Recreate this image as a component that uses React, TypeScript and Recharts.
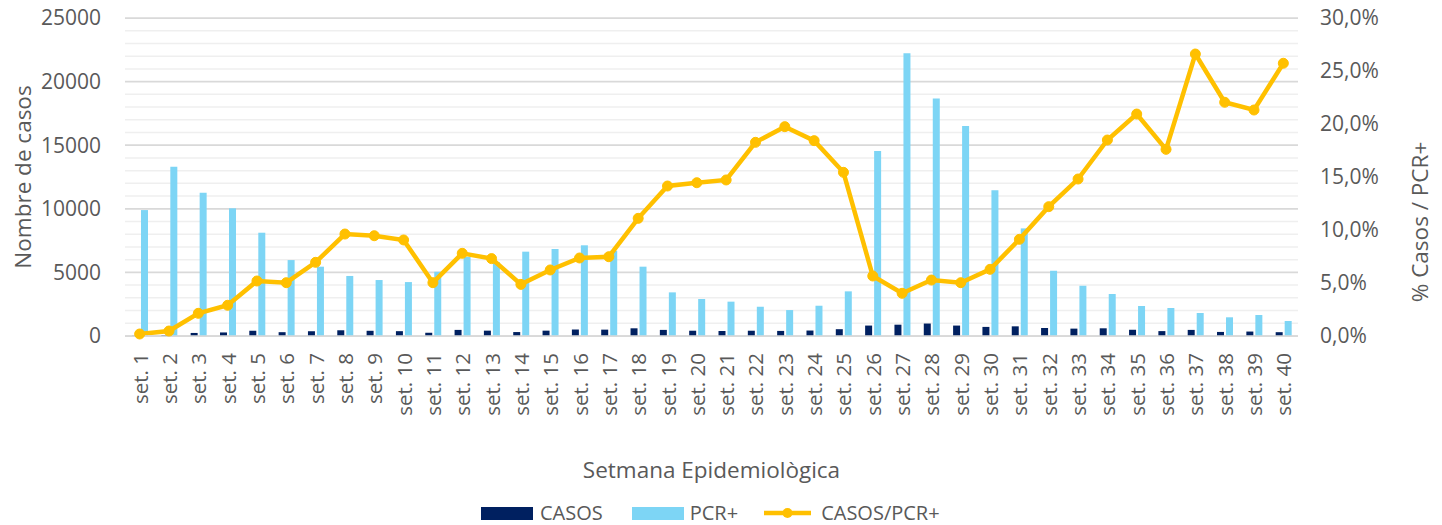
import React from 'react';
import { ComposedChart, Bar, Line, XAxis, YAxis, CartesianGrid, Legend, Label } from 'recharts';

const weeks = [
  'set. 1', 'set. 2', 'set. 3', 'set. 4', 'set. 5', 'set. 6', 'set. 7', 'set. 8', 'set. 9', 'set. 10',
  'set. 11', 'set. 12', 'set. 13', 'set. 14', 'set. 15', 'set. 16', 'set. 17', 'set. 18', 'set. 19', 'set. 20',
  'set. 21', 'set. 22', 'set. 23', 'set. 24', 'set. 25', 'set. 26', 'set. 27', 'set. 28', 'set. 29', 'set. 30',
  'set. 31', 'set. 32', 'set. 33', 'set. 34', 'set. 35', 'set. 36', 'set. 37', 'set. 38', 'set. 39', 'set. 40',
];

const casos = [
  20, 60, 240, 280, 410, 300, 375, 450, 410, 380,
  255, 480, 420, 310, 420, 510, 500, 605, 480, 415,
  395, 415, 400, 430, 535, 820, 890, 980, 820, 715,
  760, 630, 580, 605, 490, 385, 480, 320, 350, 300,
];

const pcrPositius = [
  9900, 13300, 11260, 10040, 8120, 5970, 5450, 4720, 4400, 4240,
  5050, 6230, 5800, 6630, 6840, 7130, 6700, 5450, 3430, 2910,
  2700, 2300, 2040, 2380, 3510, 14540, 22220, 18680, 16500, 11450,
  8460, 5130, 3950, 3300, 2360, 2200, 1810, 1470, 1650, 1180,
];

const ratioCasosPcr = [
  0.0019, 0.0047, 0.0214, 0.029, 0.0519, 0.0503, 0.0695, 0.0962, 0.0946, 0.0906,
  0.0503, 0.078, 0.073, 0.0487, 0.0623, 0.0736, 0.0748, 0.111, 0.1415, 0.1446,
  0.1472, 0.1827, 0.1975, 0.1843, 0.1544, 0.0566, 0.0403, 0.0528, 0.0503, 0.0629,
  0.0912, 0.122, 0.1481, 0.1849, 0.2094, 0.1761, 0.266, 0.2205, 0.2132, 0.2573,
];

const leftTicks = [0, 5000, 10000, 15000, 20000, 25000];
const minorGridValues = [
  1000, 2000, 3000, 4000, 6000, 7000, 8000, 9000, 11000, 12000, 13000, 14000,
  16000, 17000, 18000, 19000, 21000, 22000, 23000, 24000,
];
const rightTicks = [0, 0.05, 0.1, 0.15, 0.2, 0.25, 0.3];

const data = weeks.map((week, i) => ({
  week,
  casos: casos[i],
  pcr: pcrPositius[i],
  ratio: ratioCasosPcr[i],
}));

const FONT = "'Open Sans', sans-serif";
const TEXT = '#595959';
const NAVY = '#002060';
const LIGHT = '#7DD5F5';
const GOLD = '#FFC000';

const fmtPct = (v: number) => (v * 100).toFixed(1).replace('.', ',') + '%';

const XTick = (props: any) => {
  const { x, y, payload } = props;
  return (
    <text
      x={x}
      y={y}
      transform={`rotate(-90, ${x}, ${y})`}
      textAnchor="end"
      dominantBaseline="central"
      fontFamily={FONT}
      fontSize={20.5}
      fill={TEXT}
    >
      {payload.value}
    </text>
  );
};

const XTitle = (props: any) => {
  const vb = props.viewBox || { x: 125, y: 336, width: 1173 };
  return (
    <text x={vb.x + vb.width / 2} y={vb.y + 142} textAnchor="middle" fontFamily={FONT} fontSize={22.5} fill={TEXT}>
      Setmana Epidemiològica
    </text>
  );
};

const LeftTitle = (props: any) => {
  const vb = props.viewBox || { x: 0, y: 18, width: 125, height: 318 };
  const cx = vb.x + 22;
  const cy = vb.y + vb.height / 2;
  return (
    <text
      x={cx}
      y={cy}
      transform={`rotate(-90, ${cx}, ${cy})`}
      textAnchor="middle"
      dominantBaseline="central"
      fontFamily={FONT}
      fontSize={22.5}
      fill={TEXT}
    >
      Nombre de casos
    </text>
  );
};

const RightTitle = (props: any) => {
  const vb = props.viewBox || { x: 1298, y: 18, width: 144, height: 318 };
  const cx = vb.x + 121;
  const cy = vb.y + 204;
  return (
    <text
      x={cx}
      y={cy}
      transform={`rotate(-90, ${cx}, ${cy})`}
      textAnchor="middle"
      dominantBaseline="central"
      fontFamily={FONT}
      fontSize={22.5}
      fill={TEXT}
    >
      % Casos / PCR+
    </text>
  );
};

const LegendContent = () => (
  <div
    style={{
      display: 'flex',
      alignItems: 'center',
      height: 30,
      paddingLeft: 481,
      fontFamily: FONT,
      fontSize: 20,
      color: TEXT,
      lineHeight: '30px',
    }}
  >
    <span style={{ display: 'inline-block', width: 52, height: 13, background: NAVY }} />
    <span style={{ marginLeft: 7 }}>CASOS</span>
    <span style={{ display: 'inline-block', width: 52, height: 13, background: LIGHT, marginLeft: 29 }} />
    <span style={{ marginLeft: 6 }}>PCR+</span>
    <svg width={47} height={14} style={{ marginLeft: 26 }}>
      <line x1={0} y1={7} x2={47} y2={7} stroke={GOLD} strokeWidth={4.5} />
      <circle cx={23.5} cy={7} r={5} fill={GOLD} />
    </svg>
    <span style={{ marginLeft: 10 }}>CASOS/PCR+</span>
  </div>
);

export default function App() {
  return (
    <div style={{ position: 'absolute', left: 0, top: 0, background: '#fff' }}>
      <ComposedChart
        width={1442}
        height={525}
        data={data}
        margin={{ top: 18, right: 0, bottom: 0, left: 0 }}
        barGap={2}
        barSize={7}
      >
        <CartesianGrid
          yAxisId="left"
          vertical={false}
          horizontalValues={minorGridValues}
          stroke="#EFEFEF"
          strokeWidth={1.5}
        />
        <CartesianGrid
          yAxisId="left"
          vertical={false}
          horizontalValues={leftTicks}
          stroke="#D9D9D9"
          strokeWidth={1.75}
        />
        <XAxis
          dataKey="week"
          interval={0}
          height={159}
          tickLine={false}
          tickSize={0}
          tickMargin={17}
          axisLine={{ stroke: '#D9D9D9', strokeWidth: 1.75 }}
          tick={<XTick />}
        >
          <Label content={<XTitle />} />
        </XAxis>
        <YAxis
          yAxisId="left"
          orientation="left"
          width={125}
          domain={[0, 25000]}
          ticks={leftTicks}
          interval={0}
          axisLine={false}
          tickLine={false}
          tickSize={0}
          tickMargin={24}
          tick={{ fontFamily: FONT, fontSize: 21, fill: TEXT }}
        >
          <Label content={<LeftTitle />} />
        </YAxis>
        <YAxis
          yAxisId="right"
          orientation="right"
          width={144}
          domain={[0, 0.3]}
          ticks={rightTicks}
          interval={0}
          axisLine={false}
          tickLine={false}
          tickSize={0}
          tickMargin={22}
          tickFormatter={fmtPct}
          tick={{ fontFamily: FONT, fontSize: 21, fill: TEXT, textAnchor: 'start' }}
        >
          <Label content={<RightTitle />} />
        </YAxis>
        <Legend
          verticalAlign="bottom"
          content={<LegendContent />}
          wrapperStyle={{ left: 0, width: 1442, height: 30, top: 498 }}
        />
        <Bar yAxisId="left" dataKey="casos" name="CASOS" fill={NAVY} isAnimationActive={false} />
        <Bar yAxisId="left" dataKey="pcr" name="PCR+" fill={LIGHT} isAnimationActive={false} />
        <Line
          yAxisId="right"
          dataKey="ratio"
          name="CASOS/PCR+"
          stroke={GOLD}
          strokeWidth={4.5}
          dot={{ r: 5, fill: GOLD, stroke: GOLD, strokeWidth: 1 }}
          activeDot={false}
          isAnimationActive={false}
        />
      </ComposedChart>
    </div>
  );
}
